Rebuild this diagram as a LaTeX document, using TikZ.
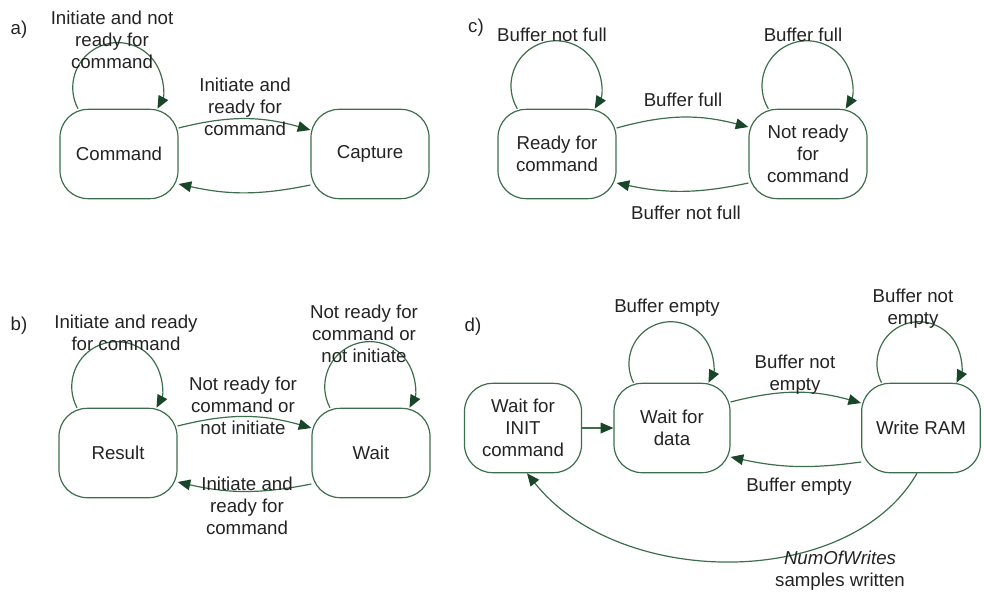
\documentclass[tikz,border=0pt]{standalone}
\usepackage{fontspec}
\setmainfont{Liberation Sans}
\usetikzlibrary{arrows.meta,calc}
\definecolor{lc}{RGB}{60,110,75}
\definecolor{ac}{RGB}{25,70,40}
\definecolor{tc}{RGB}{35,35,35}
\begin{document}
\begin{tikzpicture}[x=0.75pt,y=0.75pt,
 state/.style={draw=lc, text=tc, line width=0.9pt, rounded corners=21pt, minimum width=88.5pt, minimum height=67pt, align=center, inner sep=0pt, font=\fontsize{14}{16.5}\selectfont},
 tr/.style={draw=lc, line width=0.9pt, -{Triangle[length=9.5pt,width=8pt,color=ac]}},
 lbl/.style={align=center, text=tc, font=\fontsize{14}{16.5}\selectfont, inner sep=0pt},
]
\useasboundingbox (0,0) rectangle (984,-593);

% panel labels
\node[lbl] (pa) at (19,-30) {a)};
\node[lbl] (pc) at (476,-28) {c)};
\node[lbl] (pb) at (19,-326) {b)};
\node[lbl] (pd) at (473,-327) {d)};

% a)
\node[state] (cmd) at (119,-154) {Command};
\node[state] (cap) at (370,-154) {Capture};
\draw[tr] ($(cmd.north)+(-41,0)$) arc[start angle=208, end angle=-28, radius=45];
\node[lbl] (la1) at (112,-40) {Initiate and not\\ready for\\command};
\draw[tr] ($(cmd.east)+(0,26)$) to[bend left=15] ($(cap.west)+(0,24)$);
\node[lbl] (la2) at (245,-107) {Initiate and\\ready for\\command};
\draw[tr] ($(cap.west)+(0,-31)$) to[bend left=12] ($(cmd.east)+(0,-30)$);

% c)
\node[state] (rdy) at (557,-154) {Ready for\\command};
\node[state] (nrdy) at (808,-154) {Not ready\\for\\command};
\draw[tr] ($(rdy.north)+(-39.7,0)$) arc[start angle=210.7, end angle=-30.7, radius=45];
\draw[tr] ($(nrdy.north)+(-39.7,0)$) arc[start angle=210.7, end angle=-30.7, radius=45];
\node[lbl] (lc1) at (552,-35) {Buffer not full};
\node[lbl] (lc2) at (803,-35) {Buffer full};
\draw[tr] ($(rdy.east)+(0,26)$) to[bend left=15] ($(nrdy.west)+(0,27)$);
\node[lbl] (lc3) at (683,-100) {Buffer full};
\draw[tr] ($(nrdy.west)+(0,-29)$) to[bend left=12] ($(rdy.east)+(0,-29)$);
\node[lbl] (lc4) at (686,-213) {Buffer not full};

% b)
\node[state] (res) at (118,-453) {Result};
\node[state] (wait) at (371,-453) {Wait};
\draw[tr] ($(res.north)+(-41,0)$) arc[start angle=208, end angle=-28, radius=45];
\draw[tr] ($(wait.north)+(-41,0)$) arc[start angle=208, end angle=-28, radius=45];
\node[lbl] (lb1) at (126,-333) {Initiate and ready\\for command};
\node[lbl] (lb2) at (364,-334) {Not ready for\\command or\\not initiate};
\draw[tr] ($(res.east)+(0,27)$) to[bend left=15] ($(wait.west)+(0,25)$);
\node[lbl] (lb3) at (243,-406) {Not ready for\\command or\\not initiate};
\draw[tr] ($(wait.west)+(0,-31)$) to[bend left=12] ($(res.east)+(0,-29)$);
\node[lbl] (lb4) at (247,-506) {Initiate and\\ready for\\command};

% d)
\node[state, minimum width=87.75pt] (winit) at (523,-428) {Wait for\\INIT\\command};
\node[state, minimum width=87pt] (wdata) at (672,-428) {Wait for\\data};
\node[state, minimum width=89pt] (wram) at (921,-428) {Write RAM};
\draw[tr] (winit.east) -- (wdata.west);
\draw[tr] ($(wdata.north)+(-38.5,0)$) arc[start angle=206.9, end angle=-26.9, radius=42];
\draw[tr] ($(wram.north)+(-39.5,0)$) arc[start angle=206.9, end angle=-26.9, radius=42];
\node[lbl] (ld1) at (667,-308) {Buffer empty};
\node[lbl] (ld2) at (913,-309) {Buffer not\\empty};
\draw[tr] ($(wdata.east)+(0,26)$) to[bend left=15] ($(wram.west)+(0,25)$);
\node[lbl] (ld3) at (795,-375) {Buffer not\\empty};
\draw[tr] ($(wram.west)+(0,-34)$) to[bend left=10] ($(wdata.east)+(0,-29)$);
\node[lbl] (ld4) at (799,-487) {Buffer empty};
\draw[tr] ($(wram.south)+(-4,0)$) .. controls (850,-590) and (620,-590) .. ($(winit.south)+(4,0)$);
\node[lbl] (ld5) at (840,-571) {\textit{NumOfWrites}\\samples written};
\end{tikzpicture}
\end{document}
